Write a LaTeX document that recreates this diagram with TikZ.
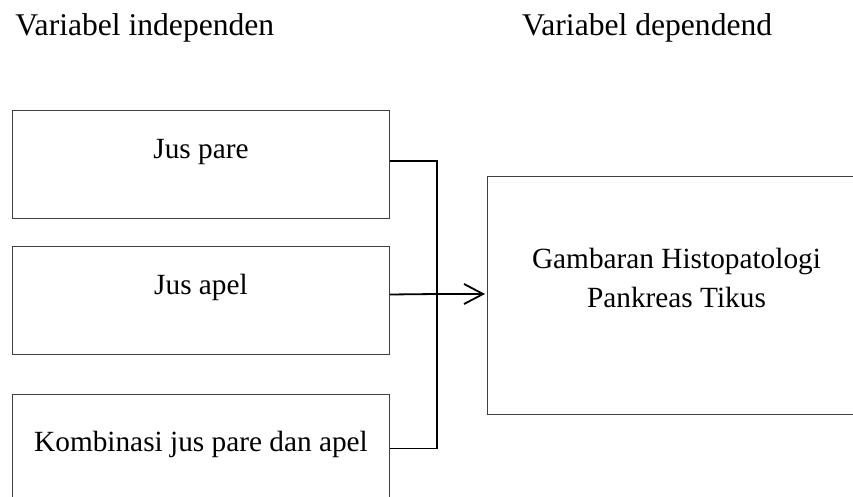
\documentclass[tikz,border=0pt]{standalone}
\usepackage{fontspec}
\setmainfont{Liberation Serif}
\usetikzlibrary{arrows.meta}
\begin{document}
\begin{tikzpicture}[x=0.5pt,y=-0.5pt,line join=miter,
    every node/.style={inner sep=0pt,font=\fontsize{14.65}{19.35}\selectfont},
    judul/.style={anchor=base west,font=\fontsize{15.8}{19}\selectfont},
    varbox/.style={draw=black!75,line width=0.5pt,anchor=north west,minimum width=188.5pt,
      text height=24pt,text depth=30pt},
    conn/.style={line width=0.9pt}]
  \useasboundingbox (0,0) rectangle (853,497);
  \clip (0,0) rectangle (853,497);
  \node[judul] (indep) at (15,36) {Variabel independen};
  \node[judul] (dep) at (521.7,36) {Variabel dependend};
  \node[varbox] (pare) at (12,110) {Jus pare};
  \node[varbox] (apel) at (12,246) {Jus apel};
  \node[varbox,text height=28.35pt,text depth=25.65pt] (komb) at (12,394) {Kombinasi jus pare dan apel};
  \node[draw=black!75,line width=0.5pt,anchor=north west,minimum width=189pt,
    align=center,text height=65.35pt,text depth=53.65pt] (hasil) at (487,176)
    {Gambaran Histopatologi\\Pankreas Tikus};
  \coordinate (trunk) at (437,294);
  \draw[conn] ([yshift=1.7pt]pare.east) -| (trunk);
  \draw[conn] (komb.east) -| (trunk);
  \draw[conn] ([yshift=3pt]apel.east) -- (trunk);
  \draw[conn,-{Straight Barb[length=9.5pt,width=10pt,line width=0.9pt]},shorten >=1pt]
    (trunk) -- (trunk -| hasil.west);
\end{tikzpicture}
\end{document}
